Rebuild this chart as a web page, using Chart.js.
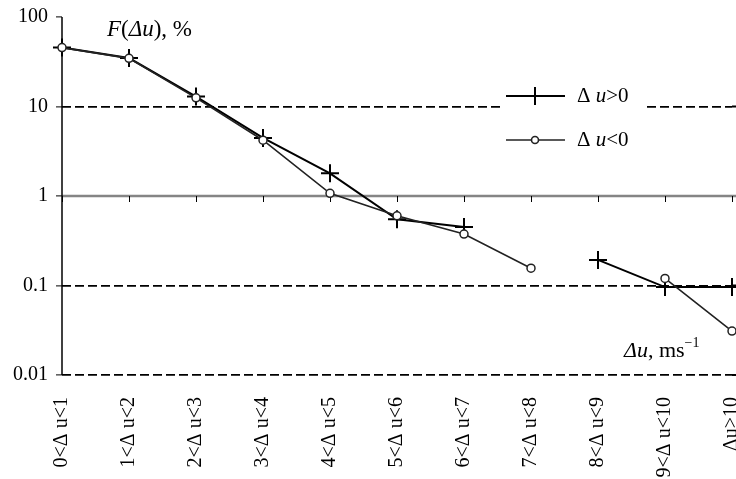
<!DOCTYPE html>
<html><head><meta charset="utf-8">
<script src="https://cdn.jsdelivr.net/npm/chart.js@4"></script>
<style>html,body{margin:0;padding:0;background:#fff;overflow:hidden;width:736px;height:479px}canvas{display:block}</style>
</head><body>
<canvas id="c" width="746" height="479"></canvas>
<script>
const categories = ["0<Δ u<1","1<Δ u<2","2<Δ u<3","3<Δ u<4","4<Δ u<5","5<Δ u<6","6<Δ u<7","7<Δ u<8","8<Δ u<9","9<Δ u<10","Δu>10"];
const positiveValues = [45.5, 34.8, 12.9, 4.45, 1.79, 0.55, 0.45, null, 0.193, 0.096, 0.096];
const negativeValues = [45.5, 34.5, 12.5, 4.2, 1.07, 0.6, 0.376, 0.156, null, 0.12, 0.031];
const yTickValues = [0.01, 0.1, 1, 10, 100];
const yTickLabels = ["0.01", "0.1", "1", "10", "100"];
const dashedGridValues = [0.01, 0.1, 10];
const seriesNames = ["Δ u>0", "Δ u<0"];

const FONT = "'Liberation Serif', 'DejaVu Serif', serif";

function drawRuns(ctx, x, y, runs, size) {
  let cx = x;
  runs.forEach(r => {
    const s = r.size || size;
    ctx.font = (r.italic ? 'italic ' : '') + s + 'px ' + FONT;
    ctx.fillText(r.t, cx, y + (r.dy || 0));
    cx += ctx.measureText(r.t).width;
  });
}

const decor = {
  id: 'decor',
  beforeDatasetsDraw(chart) {
    const {ctx, chartArea: a, scales: {x, y}} = chart;
    ctx.save();
    // dashed lines continue to the right edge
    ctx.strokeStyle = '#000'; ctx.lineWidth = 1.8; ctx.setLineDash([9, 4]);
    dashedGridValues.forEach(v => {
      const py = y.getPixelForValue(v);
      ctx.beginPath(); ctx.moveTo(a.right, py); ctx.lineTo(chart.width, py); ctx.stroke();
    });
    ctx.setLineDash([]);
    // x axis line at value 1
    const y1 = y.getPixelForValue(1);
    ctx.strokeStyle = '#858585'; ctx.lineWidth = 2.5;
    ctx.beginPath(); ctx.moveTo(a.left, y1); ctx.lineTo(chart.width, y1); ctx.stroke();
    ctx.strokeStyle = '#000'; ctx.lineWidth = 1;
    categories.forEach((c, i) => {
      const px = Math.round(x.getPixelForValue(i)) + 0.5;
      ctx.beginPath(); ctx.moveTo(px, y1); ctx.lineTo(px, y1 + 6); ctx.stroke();
    });
    // y axis line
    ctx.strokeStyle = '#000'; ctx.lineWidth = 1.5;
    ctx.beginPath(); ctx.moveTo(a.left, y.getPixelForValue(100)); ctx.lineTo(a.left, y.getPixelForValue(0.01)); ctx.stroke();
    ctx.restore();
  },
  afterDraw(chart) {
    const {ctx} = chart;
    ctx.save();
    ctx.fillStyle = '#000';
    ctx.textBaseline = 'alphabetic';
    ctx.textAlign = 'left';
    // axis titles
    drawRuns(ctx, 107, 36, [
      {t: 'F', italic: true}, {t: '('}, {t: 'Δu', italic: true}, {t: ')'}, {t: ', %'}
    ], 23);
    drawRuns(ctx, 624, 357, [
      {t: 'Δu', italic: true}, {t: ', '}, {t: 'ms'}, {t: '−1', size: 14, dy: -10}
    ], 22);
    // legend
    ctx.fillStyle = '#fff';
    ctx.fillRect(500, 80, 147, 78);
    // item 1
    ctx.strokeStyle = '#000'; ctx.lineWidth = 2;
    ctx.beginPath(); ctx.moveTo(506, 96); ctx.lineTo(565, 96); ctx.stroke();
    ctx.beginPath(); ctx.moveTo(535, 87); ctx.lineTo(535, 105); ctx.moveTo(527, 96); ctx.lineTo(543, 96); ctx.stroke();
    // item 2
    ctx.strokeStyle = '#222'; ctx.lineWidth = 1.6;
    ctx.beginPath(); ctx.moveTo(506, 140); ctx.lineTo(565, 140); ctx.stroke();
    ctx.fillStyle = '#fff';
    ctx.beginPath(); ctx.arc(535, 140, 3.5, 0, Math.PI * 2); ctx.fill(); ctx.stroke();
    ctx.fillStyle = '#000';
    const parts = seriesNames.map(n => [n.slice(0, 2), n.slice(2, 3), n.slice(3)]);
    drawRuns(ctx, 577, 102, [{t: parts[0][0]}, {t: parts[0][1], italic: true}, {t: parts[0][2]}], 21);
    drawRuns(ctx, 577, 146, [{t: parts[1][0]}, {t: parts[1][1], italic: true}, {t: parts[1][2]}], 21);
    ctx.restore();
  }
};

new Chart(document.getElementById('c'), {
  type: 'line',
  data: {
    labels: categories,
    datasets: [
      {
        label: seriesNames[0], data: positiveValues, order: 1,
        borderColor: '#000', borderWidth: 2, tension: 0, spanGaps: false,
        pointStyle: 'cross', pointRadius: 9, pointBorderWidth: 2, pointBorderColor: '#000'
      },
      {
        label: seriesNames[1], data: negativeValues, order: 0,
        borderColor: '#222', borderWidth: 1.6, tension: 0, spanGaps: false,
        pointStyle: 'circle', pointRadius: 4, pointBorderWidth: 1.5,
        pointBorderColor: '#222', pointBackgroundColor: '#fff'
      }
    ]
  },
  options: {
    responsive: false, animation: false, devicePixelRatio: 1, events: [],
    layout: {padding: {top: 17, right: 14, left: 0, bottom: 0}},
    plugins: {legend: {display: false}, tooltip: {enabled: false}},
    scales: {
      x: {
        type: 'category',
        grid: {display: false, drawTicks: false},
        border: {display: false},
        ticks: {autoSkip: false, maxRotation: 90, minRotation: 90, padding: 22, color: '#000',
          font: {family: FONT, size: 20}},
        afterFit(s) { s.height = 104; s.paddingLeft = 0; s.paddingRight = 0; }
      },
      y: {
        type: 'logarithmic', min: 0.01, max: 100,
        afterBuildTicks(s) { s.ticks = yTickValues.map(v => ({value: v})); },
        ticks: {
          color: '#000', padding: 8, font: {family: FONT, size: 20},
          callback(v) { const i = yTickValues.findIndex(t => Math.abs(t - v) < t * 1e-6); return i >= 0 ? yTickLabels[i] : ''; }
        },
        grid: {
          color(ctx) { return ctx.tick && dashedGridValues.some(t => Math.abs(t - ctx.tick.value) < t * 1e-6) ? '#000' : 'rgba(0,0,0,0)'; },
          lineWidth: 1.8, tickColor: '#000', tickLength: 6, tickWidth: 1, tickBorderDash: [], drawTicks: true
        },
        border: {display: false, dash: [9, 4]},
        afterFit(s) { s.width = 62; s.paddingTop = 0; s.paddingBottom = 0; }
      }
    }
  },
  plugins: [decor]
});
</script>
</body></html>
